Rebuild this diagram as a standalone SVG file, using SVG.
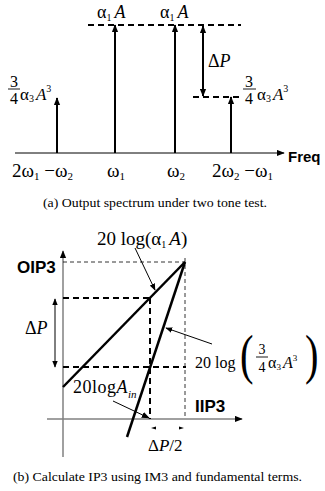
<svg xmlns="http://www.w3.org/2000/svg" width="325" height="491" viewBox="0 0 325 491">
<style>
.m{font-family:"Liberation Serif","Times New Roman","DejaVu Serif",serif;fill:#000}
.b{font-family:"Liberation Sans",Arial,sans-serif;font-weight:bold;fill:#000}
.i{font-style:italic}
.stem{stroke:#000;stroke-width:2;fill:none}
.dash{stroke:#000;stroke-width:2;stroke-dasharray:6,4;fill:none}
.tdash{stroke:#000;stroke-width:0.8;stroke-dasharray:4,3;fill:none}
.thick{stroke:#000;stroke-width:2.5;fill:none}
.thin{stroke:#000;stroke-width:1;fill:none}
.gray{stroke:#808080;stroke-width:1.5;fill:none}
</style>
<defs>
<marker id="ah" viewBox="0 0 10 8" refX="9" refY="4" markerWidth="8" markerHeight="7" markerUnits="userSpaceOnUse" orient="auto-start-reverse"><path d="M0,0 L10,4 L0,8 z" fill="#000"/></marker>
<marker id="ahs" viewBox="0 0 10 8" refX="9" refY="4" markerWidth="7" markerHeight="6" markerUnits="userSpaceOnUse" orient="auto-start-reverse"><path d="M0,0 L10,4 L0,8 z" fill="#000"/></marker>
</defs>

<!-- Part (a) -->
<g id="connectors-a">
<line x1="15" y1="153" x2="284" y2="153" class="thin" stroke-width="1.3" marker-end="url(#ah)"/>
<line x1="57" y1="153" x2="57" y2="98" class="stem" marker-end="url(#ah)"/>
<line x1="115" y1="153" x2="115" y2="25" class="stem" marker-end="url(#ah)"/>
<line x1="175" y1="153" x2="175" y2="25" class="stem" marker-end="url(#ah)"/>
<line x1="231" y1="153" x2="231" y2="97" class="stem" marker-end="url(#ah)"/>
<line x1="203" y1="26" x2="203" y2="96" class="stem" marker-start="url(#ah)" marker-end="url(#ah)"/>
<line x1="88" y1="25" x2="241" y2="25" class="dash"/>
<line x1="193" y1="97" x2="243" y2="97" class="dash"/>
</g>
<g font-family="Liberation Serif, Times New Roman, serif">
<g id="label-a1A-left"><text x="97" y="18" class="m" font-size="18">α<tspan font-size="10" dy="3">1</tspan><tspan dy="-3" dx="3" class="i">A</tspan></text></g>
<g id="label-a1A-right"><text x="160" y="18" class="m" font-size="18">α<tspan font-size="10" dy="3">1</tspan><tspan dy="-3" dx="3" class="i">A</tspan></text></g>
<g id="label-dP-a"><text x="208" y="67" class="m" font-size="18">Δ<tspan class="i">P</tspan></text></g>
<g id="label-im3-left">
<text x="14" y="87" class="m" font-size="16" text-anchor="middle">3</text>
<line x1="8" y1="89" x2="20" y2="89" stroke="#000" stroke-width="0.9"/>
<text x="14" y="104" class="m" font-size="16" text-anchor="middle">4</text>
<text x="20" y="100" class="m" font-size="17">α<tspan font-size="10" dy="2">3</tspan><tspan dy="-2" dx="2" class="i">A</tspan><tspan font-size="10" dy="-8">3</tspan></text>
</g>
<g id="label-im3-right">
<text x="249" y="87" class="m" font-size="16" text-anchor="middle">3</text>
<line x1="243" y1="89" x2="256" y2="89" stroke="#000" stroke-width="0.9"/>
<text x="249" y="104" class="m" font-size="16" text-anchor="middle">4</text>
<text x="257" y="100" class="m" font-size="17">α<tspan font-size="10" dy="2">3</tspan><tspan dy="-2" dx="2" class="i">A</tspan><tspan font-size="10" dy="-8">3</tspan></text>
</g>
<g id="tick-2w1-w2"><text x="12" y="177" class="m" font-size="19">2ω<tspan font-size="11" dy="3">1</tspan><tspan dy="-3"> −ω</tspan><tspan font-size="11" dy="3">2</tspan></text></g>
<g id="tick-w1"><text x="107" y="177" class="m" font-size="19">ω<tspan font-size="11" dy="3">1</tspan></text></g>
<g id="tick-w2"><text x="167" y="177" class="m" font-size="19">ω<tspan font-size="11" dy="3">2</tspan></text></g>
<g id="tick-2w2-w1"><text x="212" y="177" class="m" font-size="19">2ω<tspan font-size="11" dy="3">2</tspan><tspan dy="-3"> −ω</tspan><tspan font-size="11" dy="3">1</tspan></text></g>
<g id="caption-a"><text x="43" y="207" class="m" font-size="12.5" textLength="224" lengthAdjust="spacingAndGlyphs">(a) Output spectrum under two tone test.</text></g>
</g>
<g id="axis-freq"><text x="288" y="162" class="b" font-size="15">Freq</text></g>

<!-- Part (b) -->
<g id="connectors-b">
<line x1="63" y1="457" x2="63" y2="251" class="gray" marker-end="url(#ah)"/>
<line x1="47" y1="419" x2="242" y2="419" class="gray" marker-end="url(#ah)"/>
<line x1="63" y1="262" x2="185" y2="262" class="tdash"/>
<line x1="185" y1="258" x2="185" y2="419" class="tdash" stroke-width="1.2"/>
<line x1="63" y1="298" x2="151" y2="298" class="dash"/>
<line x1="150" y1="298" x2="150" y2="419" class="dash"/>
<line x1="63" y1="367" x2="186" y2="367" class="dash"/>
<line x1="63" y1="387" x2="185" y2="262" class="thick"/>
<line x1="185" y1="262" x2="127" y2="437" class="thick"/>
<line x1="55" y1="299" x2="55" y2="367" class="thin" marker-start="url(#ahs)" marker-end="url(#ahs)"/>
<line x1="135" y1="248" x2="155" y2="290" class="thin" marker-end="url(#ahs)"/>
<line x1="212" y1="344" x2="166" y2="328" class="thin" stroke-width="1.2" marker-end="url(#ahs)"/>
<line x1="113" y1="401" x2="149" y2="418" class="thin" stroke-width="1.5" marker-end="url(#ah)"/>
<polygon points="151,428 156,426.5 156,429.5" fill="#000"/>
<polygon points="184,428 179,426.5 179,429.5" fill="#000"/>
</g>
<g id="axis-oip3"><text x="17" y="273" class="b" font-size="17">OIP3</text></g>
<g id="axis-iip3"><text x="195" y="412" class="b" font-size="17">IIP3</text></g>
<g font-family="Liberation Serif, Times New Roman, serif">
<g id="label-fund"><text x="97" y="245" class="m" font-size="19">20 log(α<tspan font-size="10" dy="3">1</tspan><tspan dy="-3" dx="3" class="i">A</tspan>)</text></g>
<g id="label-dP-b"><text x="25" y="334" class="m" font-size="18">Δ<tspan class="i">P</tspan></text></g>
<g id="label-im3">
<text x="195" y="368" class="m" font-size="16">20 log</text>
<text x="240" y="373" class="m" font-size="54" transform="translate(240 373) scale(0.75 1) translate(-240 -373)">(</text>
<text x="262" y="354" class="m" font-size="14" text-anchor="middle">3</text>
<line x1="256" y1="357" x2="268" y2="357" stroke="#000" stroke-width="0.9"/>
<text x="262" y="372" class="m" font-size="14" text-anchor="middle">4</text>
<text x="268" y="368" class="m" font-size="16">α<tspan font-size="9" dy="2">3</tspan><tspan dy="-2" dx="2" class="i">A</tspan><tspan font-size="9" dy="-7">3</tspan></text>
<text x="305" y="373" class="m" font-size="54" transform="translate(305 373) scale(0.75 1) translate(-305 -373)">)</text>
</g>
<g id="label-ain"><text x="73" y="393" class="m" font-size="18" letter-spacing="0.5">20log<tspan class="i">A</tspan><tspan class="i" font-size="11" dy="5" letter-spacing="0">in</tspan></text></g>
<g id="label-dP2"><text x="148" y="451" class="m" font-size="17">Δ<tspan class="i">P</tspan>/2</text></g>
<g id="caption-b"><text x="13" y="481" class="m" font-size="12.5" textLength="289" lengthAdjust="spacingAndGlyphs">(b) Calculate IP3 using IM3 and fundamental terms.</text></g>
</g>
</svg>
